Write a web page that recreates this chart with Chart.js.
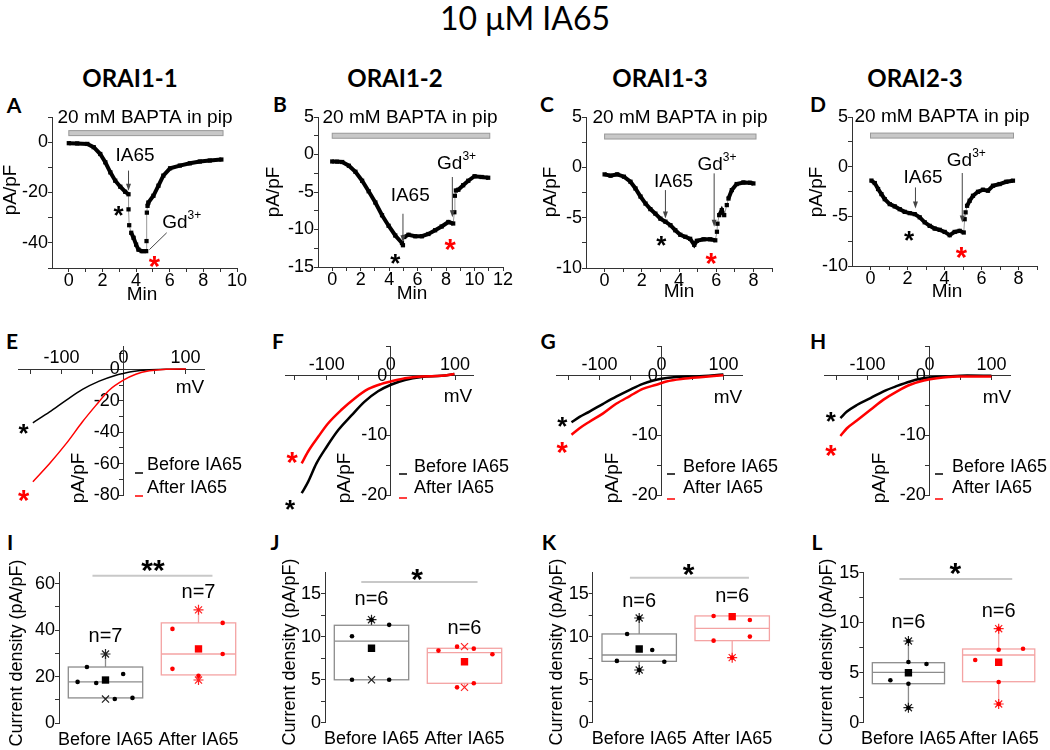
<!DOCTYPE html>
<html>
<head>
<meta charset="utf-8">
<script src="https://cdn.jsdelivr.net/npm/chart.js@4.4.1/dist/chart.umd.min.js"></script>
<style>
  body { margin: 0; background: #fff; }
  #wrap { position: relative; width: 1050px; height: 750px; overflow: hidden; }
  #wrap canvas { position: absolute; left: 0; top: 0; pointer-events: none; }
  .t { position: absolute; transform: translate(-50%, -50%); white-space: nowrap; line-height: 1; color: #000; font-family: Lato, sans-serif; }
  .hd { font-weight: 700; font-size: 24px; }
  .lt { font-weight: 700; font-size: 21px; }
</style>
</head>
<body>
<div id="wrap">
  <div class="t" style="left:525px;top:18px;font-size:32px;">10 μM IA65</div>
  <div class="t hd" style="left:130px;top:78px;">ORAI1-1</div>
  <div class="t hd" style="left:395px;top:78px;">ORAI1-2</div>
  <div class="t hd" style="left:660px;top:78px;">ORAI1-3</div>
  <div class="t hd" style="left:915px;top:78px;">ORAI2-3</div>
  <div class="t lt" style="left:14px;top:104px;">A</div>
  <div class="t lt" style="left:280px;top:103px;">B</div>
  <div class="t lt" style="left:547px;top:103px;">C</div>
  <div class="t lt" style="left:818px;top:103px;">D</div>
  <div class="t lt" style="left:12px;top:340px;">E</div>
  <div class="t lt" style="left:278px;top:340px;">F</div>
  <div class="t lt" style="left:548px;top:340px;">G</div>
  <div class="t lt" style="left:818px;top:340px;">H</div>
  <div class="t lt" style="left:10px;top:541px;">I</div>
  <div class="t lt" style="left:275px;top:541px;">J</div>
  <div class="t lt" style="left:549px;top:541px;">K</div>
  <div class="t lt" style="left:817px;top:541px;">L</div>
</div>
<script>
// ---- time courses (Min, pA/pF) ----
const A_t = [0, 0.5, 1.1, 1.48, 1.87, 2.17, 2.47, 2.76, 3.06, 3.35, 3.55, 3.55, 3.59, 3.71, 3.85, 4.0, 4.14, 4.34, 4.6, 4.62, 4.64, 4.68, 4.73, 5.03, 5.33, 5.62, 6.02, 6.6, 7.2, 7.79, 8.38, 9.07];
const A_v = [-0.4, -0.5, -0.7, -2, -4.7, -8, -12, -15.3, -17.7, -19.7, -20.7, -26.7, -33, -36, -38, -40.7, -42.7, -43.3, -43.3, -39.3, -28, -25.3, -24, -21.3, -17.3, -13.3, -10.4, -9.3, -8.4, -7.7, -7.3, -6.9];
const B_t = [0, 0.35, 0.7, 1.17, 1.63, 2.1, 2.56, 3.03, 3.5, 3.96, 4.43, 4.9, 4.97, 5.06, 5.36, 5.83, 6.3, 6.76, 7.23, 7.69, 8.16, 8.5, 8.58, 8.62, 8.69, 8.86, 9.2, 9.56, 10.0, 10.5, 10.96];
const B_v = [-0.93, -0.95, -1.0, -1.5, -2.3, -3.5, -4.9, -6.4, -8.1, -9.5, -10.8, -11.8, -12.1, -11.0, -10.7, -10.9, -10.9, -10.6, -10.1, -9.6, -9.0, -9.2, -7.7, -5.5, -4.8, -4.7, -4.1, -3.5, -2.9, -3.0, -3.1];
const C_t = [0, 0.32, 0.68, 1.04, 1.39, 1.66, 1.93, 2.2, 2.46, 2.73, 3.0, 3.27, 3.54, 3.8, 4.07, 4.34, 4.6, 4.82, 4.96, 5.32, 5.68, 5.95, 6.04, 6.07, 6.16, 6.3, 6.43, 6.57, 6.66, 6.84, 7.1, 7.46, 7.82, 8.0];
const C_v = [-0.7, -0.83, -0.7, -0.93, -1.43, -2.1, -2.9, -3.6, -4.15, -4.6, -5.1, -5.4, -5.75, -6.25, -6.7, -6.9, -7.1, -7.7, -7.3, -7.15, -7.15, -7.25, -6.4, -5.6, -4.75, -4.25, -4.75, -3.75, -3.1, -2.26, -1.66, -1.5, -1.53, -1.6];
const D_t = [0.05, 0.23, 0.41, 0.59, 0.77, 1.04, 1.31, 1.58, 1.85, 2.12, 2.39, 2.66, 2.93, 3.2, 3.47, 3.74, 4.01, 4.28, 4.55, 4.82, 5.04, 5.09, 5.14, 5.22, 5.36, 5.54, 5.81, 6.08, 6.35, 6.62, 6.98, 7.34, 7.7];
const D_v = [-1.4, -1.65, -2.25, -2.76, -3.27, -3.77, -4.0, -4.28, -4.55, -4.68, -4.78, -5.1, -5.6, -5.96, -6.23, -6.36, -6.57, -6.9, -6.57, -6.46, -6.63, -5.29, -4.6, -3.94, -3.43, -2.93, -2.53, -2.32, -2.42, -1.92, -1.75, -1.52, -1.41];

// ---- I-V curves (mV, pA/pF) ----
const E_mvB = [-146, -119, -92, -66, -39, -12, 0, 15, 42, 69, 101];
const E_before = [-34, -27, -19.5, -12.7, -7.4, -3.6, -2.5, -1.3, -0.2, 0.2, 0.2];
const E_mvA = [-146, -119, -92, -66, -44, -23, 0, 20, 42, 69, 101];
const E_after = [-71.5, -59.9, -47.1, -33.3, -22.7, -13.2, -6.8, -3, -0.85, 0.2, 0.4];
const F_mvB = [-139, -129, -116, -100, -82, -61, -40.5, -20, 0, 22, 48, 79, 99];
const F_before = [-19.7, -17.8, -14.7, -11.9, -9.1, -6.6, -4.3, -2.6, -1.5, -0.7, -0.2, 0, 0.3];
const F_mvA = [-139, -129, -113, -98, -77, -56, -35, -14.5, 0, 22, 48, 79, 99];
const F_after = [-14.7, -12.7, -10.2, -8.0, -5.7, -3.75, -2.2, -1.35, -0.95, -0.4, -0.1, 0, 0.3];
const G_mvB = [-145, -132, -116, -94, -73, -51, -30, -13, 0, 24, 56, 100];
const G_before = [-7.8, -6.9, -6.0, -4.7, -3.5, -2.35, -1.35, -0.8, -0.5, -0.2, -0.1, 0.2];
const G_mvA = [-145, -132, -116, -94, -73, -51, -30, -8, 8, 35, 67, 100];
const G_after = [-9.9, -8.8, -7.7, -6.3, -4.7, -3.4, -2.2, -1.5, -0.95, -0.5, -0.2, 0.1];
const H_mvB = [-143.5, -133, -117, -95, -74, -52, -31, -14.5, 0, 28, 61, 100];
const H_before = [-7.1, -6.0, -4.9, -3.75, -2.6, -1.7, -0.95, -0.5, -0.3, -0.1, 0.05, 0];
const H_mvA = [-143.5, -133, -117, -95, -74, -52, -31, -9, 12, 45, 100];
const H_after = [-10.1, -8.8, -7.5, -5.7, -4.0, -2.6, -1.5, -0.8, -0.4, -0.1, -0.1];

// ---- box plots: [before, after] ----
const groups = ['Before IA65', 'After IA65'];
const I_q1 = [10.8, 20.7], I_med = [17.7, 29.7], I_q3 = [24.1, 43.1], I_mean = [18.5, 31.9], I_hi = [29.7, 48.7], I_lo = [10.3, 18.5];
const I_bx = [0.70, 0.80, 0.90, 1.19, 1.10, 1.29], I_by = [17.7, 24.1, 17.2, 21.1, 10.3, 10.8];
const I_ax = [1.72, 1.72, 2.26, 2.26, 2.0], I_ay = [40.5, 23.3, 43.1, 29.7, 20.3];
const J_q1 = [5.0, 4.59], J_med = [9.5, 8.16], J_q3 = [11.35, 8.67], J_mean = [8.67, 7.1], J_hi = [12.0, 8.86], J_lo = [5.0, 4.12];
const J_bx = [0.79, 1.19, 0.79, 1.19, 1.0], J_by = [10.07, 11.4, 5.0, 5.0, 12.0];
const J_ax = [1.72, 1.92, 2.1, 2.3, 1.92, 2.1], J_ay = [8.4, 8.86, 8.63, 7.97, 4.12, 4.59];
const K_q1 = [7.15, 9.56], K_med = [7.89, 11.0], K_q3 = [10.34, 12.44], K_mean = [8.59, 12.36], K_hi = [12.2, null], K_lo = [6.14, 7.58];
const K_bx = [0.76, 0.87, 1.14, 1.27, 1.0, 1.0], K_by = [7.2, 10.34, 8.47, 7.1, 12.2, 6.14];
const K_ax = [1.8, 1.8, 2.19, 2.19, 2.0], K_ay = [12.44, 9.56, 11.97, 10.03, 7.58];
const L_q1 = [3.9, 4.1], L_med = [5.04, 6.77], L_q3 = [6.0, 7.37], L_mean = [5.0, 6.04], L_hi = [8.17, 9.4], L_lo = [1.5, 1.87];
const L_bx = [0.8, 1.0, 1.2, 1.0, 1.0, 1.0], L_by = [4.24, 6.07, 5.87, 3.9, 8.17, 1.5];
const L_ax = [1.74, 2.0, 2.27, 2.0, 2.0, 2.0], L_ay = [6.27, 7.3, 7.4, 4.07, 9.4, 1.87];

const FONT = '"Liberation Sans", Arial, sans-serif';
Chart.defaults.font.family = FONT;
Chart.defaults.color = '#000';
const W = 1050, H = 750;
const wrap = document.getElementById('wrap');

function canvas() {
  const c = document.createElement('canvas');
  c.width = W; c.height = H;
  wrap.appendChild(c);
  return c;
}
function zeroPad(s) { s.paddingLeft = 0; s.paddingRight = 0; s.paddingTop = 0; s.paddingBottom = 0; }
function axis(min, max, list, labels, o) {
  o = o || {};
  return {
    type: 'linear', min: min, max: max,
    position: o.position,
    afterBuildTicks: s => { s.ticks = list.map(v => ({ value: v })); },
    afterFit: s => { if (o.w !== undefined) s.width = o.w; if (o.h !== undefined) s.height = o.h; zeroPad(s); },
    ticks: { autoSkip: false, minRotation: 0, maxRotation: 0, padding: o.pad || 0, color: '#000', font: { size: 18 },
      callback: o.cb || (v => labels.includes(v) ? String(v) + (o.suffix || '') : '') },
    grid: { display: o.grid !== false, drawOnChartArea: false, color: '#333', tickLength: 4 },
    border: { display: o.border !== false, color: '#333', width: 1 }
  };
}
function jump(c) {
  const dx = Math.abs(c.p1.x - c.p0.x), dy = Math.abs(c.p1.y - c.p0.y);
  return dy > 4 && dy > 3 * dx;
}
function pts(xs, ys) { return xs.map((x, i) => ({ x: x, y: ys[i] })); }

// ---- drawing helpers ----
function txt(ctx, s, x, y, size, o) {
  o = o || {};
  ctx.save();
  ctx.font = (o.bold ? 'bold ' : '') + size + 'px ' + FONT;
  ctx.fillStyle = o.color || '#000';
  ctx.textAlign = o.align || 'center';
  ctx.textBaseline = 'middle';
  if (o.rot) { ctx.translate(x, y); ctx.rotate(-Math.PI / 2); ctx.fillText(s, 0, 0); }
  else ctx.fillText(s, x, y);
  ctx.restore();
}
function star(ctx, s, x, y, size, color) {
  ctx.save();
  ctx.font = 'bold ' + size + 'px ' + FONT;
  ctx.fillStyle = color;
  ctx.textAlign = 'center';
  ctx.textBaseline = 'alphabetic';
  ctx.fillText(s, x, y + size * 0.57);
  ctx.restore();
}
function seg(ctx, x0, y0, x1, y1, color, w) {
  ctx.save();
  ctx.strokeStyle = color; ctx.lineWidth = w || 1;
  ctx.beginPath(); ctx.moveTo(x0, y0); ctx.lineTo(x1, y1); ctx.stroke();
  ctx.restore();
}
function arrow(ctx, x, y0, y1) {
  seg(ctx, x, y0, x, y1 - 5, '#444', 1);
  ctx.save();
  ctx.fillStyle = '#444';
  ctx.beginPath(); ctx.moveTo(x, y1); ctx.lineTo(x - 2.5, y1 - 7); ctx.lineTo(x + 2.5, y1 - 7); ctx.closePath(); ctx.fill();
  ctx.restore();
}
function gd(ctx, x, y) {
  ctx.save();
  ctx.font = '19px ' + FONT; const w1 = ctx.measureText('Gd').width;
  ctx.font = '12px ' + FONT; const w2 = ctx.measureText('3+').width;
  const x0 = x - (w1 + w2) / 2;
  ctx.fillStyle = '#000'; ctx.textBaseline = 'middle'; ctx.textAlign = 'left';
  ctx.font = '19px ' + FONT; ctx.fillText('Gd', x0, y);
  ctx.font = '12px ' + FONT; ctx.fillText('3+', x0 + w1, y - 7);
  ctx.restore();
}

// ---- A-D time course panels ----
function traceChart(area, xr, yr, xT, xL, yT, yL, ts, vs, n) {
  new Chart(canvas(), {
    type: 'line',
    data: { datasets: [{
      data: pts(ts, vs), borderColor: '#000', borderWidth: 4,
      pointStyle: 'rect', pointRadius: 3, pointBackgroundColor: '#000', pointBorderWidth: 0,
      segment: { borderColor: c => jump(c) ? '#999' : '#000', borderWidth: c => jump(c) ? 1 : 4 }
    }] },
    options: {
      responsive: false, animation: false, events: [],
      layout: { padding: { left: area[0] - 40, top: area[1], right: W - area[2], bottom: H - area[3] - 30 } },
      plugins: { legend: { display: false }, tooltip: { enabled: false } },
      scales: {
        x: axis(xr[0], xr[1], xT, xL, { h: 30, pad: -2 }),
        y: axis(yr[0], yr[1], yT, yL, { w: 40 })
      }
    },
    plugins: [{ id: 'note', afterDraw: ch => {
      const ctx = ch.ctx, X = v => ch.scales.x.getPixelForValue(v), Y = v => ch.scales.y.getPixelForValue(v);
      const by = Y(n.bar[2]);
      ctx.save();
      ctx.fillStyle = '#c8c8c8'; ctx.strokeStyle = '#999'; ctx.lineWidth = 1;
      ctx.fillRect(X(n.bar[0]), by - 2.5, X(n.bar[1]) - X(n.bar[0]), 5);
      ctx.strokeRect(X(n.bar[0]), by - 2.5, X(n.bar[1]) - X(n.bar[0]), 5);
      ctx.restore();
      txt(ctx, '20 mM BAPTA in pip', n.bapta[0], n.bapta[1], 19);
      txt(ctx, 'IA65', X(n.ia[0]), Y(n.ia[1]), 19);
      arrow(ctx, X(n.iaArrow[0]), Y(n.iaArrow[1]), Y(n.iaArrow[2]));
      gd(ctx, X(n.gd[0]), Y(n.gd[1]));
      if (n.gdArrow) arrow(ctx, X(n.gdArrow[0]), Y(n.gdArrow[1]), Y(n.gdArrow[2]));
      if (n.gdLine) seg(ctx, X(n.gdLine[0]), Y(n.gdLine[1]), X(n.gdLine[2]), Y(n.gdLine[3]), '#444', 1);
      star(ctx, '*', X(n.bs[0]), Y(n.bs[1]), 26, '#000');
      star(ctx, '*', X(n.rs[0]), Y(n.rs[1]), 29, '#f00');
      txt(ctx, 'Min', n.min[0], n.min[1], 19);
      txt(ctx, 'pA/pF', n.pa[0], n.pa[1], 19, { rot: true });
    } }]
  });
}

traceChart([52, 117, 237, 268], [-1, 10], [-50, 10], [0, 1, 2, 3, 4, 5, 6, 7, 8, 9, 10], [0, 2, 4, 6, 8, 10],
  [-50, -40, -30, -20, -10, 0, 10], [0, -20, -40], A_t, A_v,
  { bar: [0, 9.17, 3.6], bapta: [145, 118], ia: [3.94, -5.3], iaArrow: [3.55, -11.3, -19.3], gd: [6.71, -32],
    gdLine: [5.82, -36, 4.79, -42.7], bs: [2.96, -26.7], rs: [5.09, -46.7], min: [142, 295], pa: [11, 190] });
traceChart([318, 117, 503, 267], [-1, 12], [-15, 5], [0, 1, 2, 3, 4, 5, 6, 7, 8, 9, 10, 11, 12], [0, 2, 4, 6, 8, 10, 12],
  [-15, -12.5, -10, -7.5, -5, -2.5, 0, 2.5, 5], [5, 0, -5, -10, -15], B_t, B_v,
  { bar: [0, 11.07, 2.5], bapta: [410, 118], ia: [5.48, -5.47], iaArrow: [4.97, -7.9, -11.7], gd: [8.74, -1.24],
    gdArrow: [8.44, -3.0, -8.36], bs: [4.43, -13.7], rs: [8.28, -11.7], min: [412, 294], pa: [274, 192] });
traceChart([586, 117, 772, 268], [-1, 9], [-10, 5], [0, 1, 2, 3, 4, 5, 6, 7, 8, 9], [0, 2, 4, 6, 8],
  [-10, -7.5, -5, -2.5, 0, 2.5, 5], [5, 0, -5, -10], C_t, C_v,
  { bar: [0, 8.14, 3.06], bapta: [680, 118], ia: [3.71, -1.43], iaArrow: [3.27, -2.26, -5.08], gd: [6.04, 0.23],
    gdArrow: [5.89, -0.6, -5.91], bs: [3.05, -7.14], rs: [5.73, -8.9], min: [679, 292], pa: [551, 192] });
traceChart([852, 117, 1037, 266], [-1, 9], [-10, 5], [0, 1, 2, 3, 4, 5, 6, 7, 8, 9], [0, 2, 4, 6, 8],
  [-10, -7.5, -5, -2.5, 0, 2.5, 5], [5, 0, -5, -10], D_t, D_v,
  { bar: [0, 7.73, 3.13], bapta: [942, 117], ia: [2.84, -1.08], iaArrow: [2.43, -2.09, -4.21], gd: [5.18, 0.61],
    gdArrow: [4.96, -0.64, -5.62], bs: [2.09, -6.8], rs: [4.91, -8.48], min: [947, 292], pa: [817, 192] });

// ---- E-H I-V panels ----
function ivChart(area, xr, yr, yT, yL, mvB, before, mvA, after, lw, n) {
  new Chart(canvas(), {
    type: 'line',
    data: { datasets: [
      { data: pts(mvA, after), borderColor: '#f00', borderWidth: lw, pointRadius: 0, cubicInterpolationMode: 'monotone' },
      { data: pts(mvB, before), borderColor: '#000', borderWidth: lw, pointRadius: 0, cubicInterpolationMode: 'monotone' }
    ] },
    options: {
      responsive: false, animation: false, events: [],
      layout: { padding: { left: area[0], top: area[1], right: W - area[2], bottom: H - area[3] } },
      plugins: { legend: { display: false }, tooltip: { enabled: false } },
      scales: {
        x: axis(xr[0], xr[1], [-150, -100, -50, 0, 50, 100], [-100, 0, 100], { position: { y: 0 }, h: 0, pad: -26 }),
        y: axis(yr[0], yr[1], yT, yL, { position: { x: 0 }, w: 0, suffix: '\u2009' })
      }
    },
    plugins: [{ id: 'note', afterDraw: ch => {
      const ctx = ch.ctx, X = v => ch.scales.x.getPixelForValue(v), Y = v => ch.scales.y.getPixelForValue(v);
      star(ctx, '*', X(n.bs[0]), Y(n.bs[1]), 26, '#000');
      star(ctx, '*', X(n.rs[0]), Y(n.rs[1]), 29, '#f00');
      seg(ctx, n.lx[0], n.ly[0], n.lx[1], n.ly[0], '#000', 1.5);
      seg(ctx, n.lx[0], n.ly[1], n.lx[1], n.ly[1], '#f00', 1.5);
      txt(ctx, 'Before IA65', n.tx, n.ty[0], 18, { align: 'left' });
      txt(ctx, 'After IA65', n.tx, n.ty[1], 18, { align: 'left' });
      txt(ctx, 'mV', n.mv[0], n.mv[1], 19);
      txt(ctx, 'pA/pF', n.pa[0], n.pa[1], 19, { rot: true });
    } }]
  });
}
const yT20 = [-20, -15, -10, -5, 0, 5], yL20 = [-20, -10, 0];
ivChart([18, 346, 204, 495], [-170, 130], [-80, 15], [-80, -70, -60, -50, -40, -30, -20, -10, 0, 10], [-80, -60, -40, -20, 0],
  E_mvB, E_before, E_mvA, E_after, 1.5,
  { bs: [-161, -36.5], rs: [-161, -79], lx: [135, 143], ly: [473, 496], tx: 147, ty: [465, 488], mv: [190, 388], pa: [79, 478] });
ivChart([285, 346, 473, 495], [-165, 128], [-20, 5], yT20, yL20,
  F_mvB, F_before, F_mvA, F_after, 2.5,
  { bs: [-157, -21.3], rs: [-154, -13.3], lx: [399, 407], ly: [474, 498], tx: 414, ty: [467, 488], mv: [458, 397], pa: [345, 478] });
ivChart([556, 346, 742, 495], [-170, 130], [-20, 5], yT20, yL20,
  G_mvB, G_before, G_mvA, G_after, 2.5,
  { bs: [-160, -7.4], rs: [-160, -11.7], lx: [667, 675], ly: [474, 499], tx: 683, ty: [467, 488], mv: [728, 398], pa: [613, 478] });
ivChart([824, 346, 1010, 495], [-170, 130], [-20, 5], yT20, yL20,
  H_mvB, H_before, H_mvA, H_after, 2.5,
  { bs: [-159, -6.6], rs: [-159, -12.2], lx: [935, 943], ly: [474, 499], tx: 952, ty: [467, 488], mv: [997, 398], pa: [880, 478] });

// ---- I-L box panels ----
function boxChart(area, yr, yT, yL, q1, med, q3, mean, hi, lo, bx, by, ax, ay, hiStyle, loStyle, n) {
  const marks = [], styles = [], cols = [];
  [0, 1].forEach(i => {
    const c = i ? '#f22' : '#222';
    if (hi[i] !== null) { marks.push({ x: i + 1, y: hi[i] }); styles.push(hiStyle[i]); cols.push(c); }
    if (lo[i] !== null) { marks.push({ x: i + 1, y: lo[i] }); styles.push(loStyle[i]); cols.push(c); }
  });
  new Chart(canvas(), {
    type: 'scatter',
    data: { datasets: [
      { data: pts(bx, by), pointRadius: 2.3, pointBackgroundColor: '#000', pointBorderWidth: 0 },
      { data: pts(ax, ay), pointRadius: 2.3, pointBackgroundColor: '#f00', pointBorderWidth: 0 },
      { data: pts([1, 2], mean), pointStyle: 'rect', pointRadius: 5.2, pointBackgroundColor: ['#000', '#f00'], pointBorderWidth: 0 },
      { data: marks, pointStyle: styles, pointRadius: 5, pointBorderColor: cols, pointBackgroundColor: 'rgba(0,0,0,0)', pointBorderWidth: 1.2 }
    ] },
    options: {
      responsive: false, animation: false, events: [],
      layout: { padding: { left: area[0] - 40, top: area[1], right: W - area[2], bottom: H - area[3] - 30 } },
      plugins: { legend: { display: false }, tooltip: { enabled: false } },
      scales: {
        x: axis(0.5, 2.5, [1, 2], [], { h: 30, pad: 2, grid: false, border: false, cb: v => groups[v - 1] }),
        y: axis(yr[0], yr[1], yT, yL, { w: 40 })
      }
    },
    plugins: [{ id: 'box',
      beforeDatasetsDraw: ch => {
        const ctx = ch.ctx, X = v => ch.scales.x.getPixelForValue(v), Y = v => ch.scales.y.getPixelForValue(v);
        const colors = ['#8c8c8c', '#f4a3a3'];
        [0, 1].forEach(i => {
          const cx = X(i + 1), hw = X(i + 1.4) - cx, c = colors[i];
          if (hi[i] !== null && hi[i] > q3[i]) seg(ctx, cx, Y(q3[i]), cx, Y(hi[i]), c, 1.3);
          if (lo[i] !== null && lo[i] < q1[i]) seg(ctx, cx, Y(q1[i]), cx, Y(lo[i]), c, 1.3);
          ctx.save();
          ctx.strokeStyle = c; ctx.lineWidth = 1.3;
          ctx.strokeRect(cx - hw, Y(q3[i]), 2 * hw, Y(q1[i]) - Y(q3[i]));
          ctx.restore();
          seg(ctx, cx - hw, Y(med[i]), cx + hw, Y(med[i]), c, 1.3);
        });
      },
      afterDraw: ch => {
        const ctx = ch.ctx, X = v => ch.scales.x.getPixelForValue(v), Y = v => ch.scales.y.getPixelForValue(v);
        seg(ctx, X(n.sig[0]), Y(n.sig[2]), X(n.sig[1]), Y(n.sig[2]), '#c8c8c8', 2);
        star(ctx, n.stars[0], X(n.stars[1]), Y(n.stars[2]), 30, '#000');
        txt(ctx, n.label, X(1), Y(n.nB), 20);
        txt(ctx, n.label, X(2), Y(n.nA), 20);
        txt(ctx, 'Current density (pA/pF)', n.yt[0], n.yt[1], 18, { rot: true });
      }
    }]
  });
}
const yT15 = [0, 2.5, 5, 7.5, 10, 12.5, 15], yL15 = [0, 5, 10, 15];
boxChart([59, 572, 245, 723], [0, 65], [0, 10, 20, 30, 40, 50, 60], [0, 20, 40, 60],
  I_q1, I_med, I_q3, I_mean, I_hi, I_lo, I_bx, I_by, I_ax, I_ay, ['star', 'star'], ['crossRot', 'star'],
  { sig: [0.86, 2.15, 63.4], stars: ['**', 1.51, 69], label: 'n=7', nB: 37.1, nA: 56.0, yt: [17, 653] });
boxChart([325, 572.5, 511, 722.7], [0, 17.5], yT15, yL15,
  J_q1, J_med, J_q3, J_mean, J_hi, J_lo, J_bx, J_by, J_ax, J_ay, ['star', 'crossRot'], ['crossRot', 'crossRot'],
  { sig: [0.89, 2.14, 16.4], stars: ['*', 1.49, 17.6], label: 'n=6', nB: 14.3, nA: 11.0, yt: [290, 652] });
boxChart([592.7, 572.5, 778.7, 722.7], [0, 17.5], yT15, yL15,
  K_q1, K_med, K_q3, K_mean, K_hi, K_lo, K_bx, K_by, K_ax, K_ay, ['star', 'star'], ['star', 'star'],
  { sig: [0.9, 2.18, 16.9], stars: ['*', 1.53, 18.1], label: 'n=6', nB: 14.1, nA: 14.7, yt: [557, 652] });
boxChart([863.3, 572.7, 1049, 722.7], [0, 15], yT15, yL15,
  L_q1, L_med, L_q3, L_mean, L_hi, L_lo, L_bx, L_by, L_ax, L_ay, ['star', 'star'], ['star', 'star'],
  { sig: [0.9, 2.15, 14.37], stars: ['*', 1.52, 15.67], label: 'n=6', nB: 10.0, nA: 11.1, yt: [827, 652] });
</script>
</body>
</html>
